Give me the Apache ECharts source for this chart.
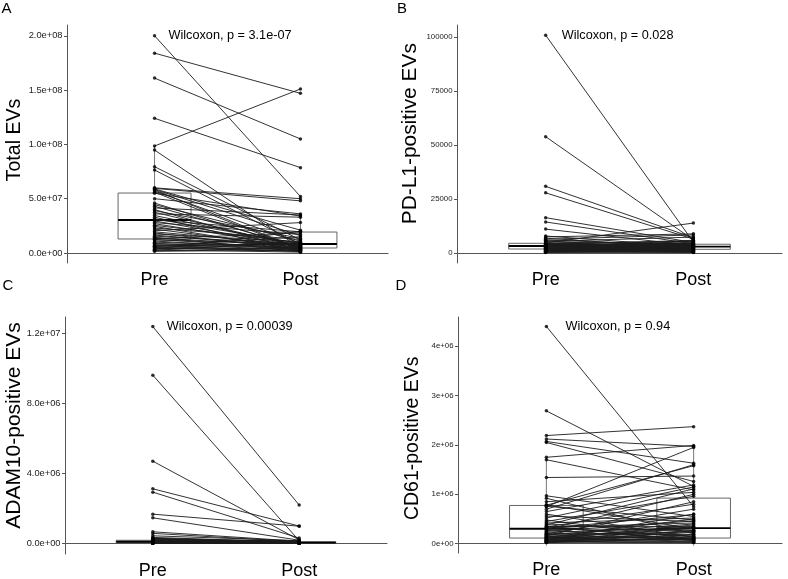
<!DOCTYPE html>
<html><head><meta charset="utf-8">
<script src="https://cdn.jsdelivr.net/npm/echarts@6/dist/echarts.min.js"></script>
<style>html,body{margin:0;padding:0;background:#fff}#c{width:788px;height:579px}</style>
</head><body><div id="c"></div>
<script>
// ---------- data ----------
const groups = ['Pre', 'Post'];
const panelLetters = ['A', 'B', 'C', 'D'];
const yTitles = ['Total EVs', 'PD-L1-positive EVs', 'ADAM10-positive EVs', 'CD61-positive EVs'];
const pLabels = ['Wilcoxon, p = 3.1e-07', 'Wilcoxon, p = 0.028', 'Wilcoxon, p = 0.00039', 'Wilcoxon, p = 0.94'];

const yTicksA = [0, 5e7, 1e8, 1.5e8, 2e8];
const yTickLabelsA = ['0.0e+00', '5.0e+07', '1.0e+08', '1.5e+08', '2.0e+08'];
const yTicksB = [0, 25000, 50000, 75000, 100000];
const yTickLabelsB = ['0', '25000', '50000', '75000', '100000'];
const yTicksC = [0, 4e6, 8e6, 1.2e7];
const yTickLabelsC = ['0.0e+00', '4.0e+06', '8.0e+06', '1.2e+07'];
const yTicksD = [0, 1e6, 2e6, 3e6, 4e6];
const yTickLabelsD = ['0e+00', '1e+06', '2e+06', '3e+06', '4e+06'];

// Panel A: Total EVs (paired Pre / Post)
const preA = [2.00e8,1.84e8,1.61e8,1.24e8,9.85e7,9.48e7,7.95e7,7.64e7,6.0e7,5.95e7,5.9e7,5.85e7,5.8e7,5.7e7,5.6e7,5.5e7,
  5.0e7,4.6e7,4.45e7,4.3e7,4.15e7,4.0e7,3.9e7,3.75e7,3.6e7,3.45e7,3.3e7,3.15e7,3.05e7,2.95e7,2.8e7,2.7e7,
  2.55e7,2.45e7,2.3e7,2.2e7,2.05e7,1.95e7,1.85e7,1.75e7,1.65e7,1.55e7,1.45e7,1.38e7,1.32e7,1.26e7,1.2e7,1.1e7,
  1.0e7,9.0e6,8.2e6,7.5e6,7.0e6,6.2e6,5.6e6,5.0e6,4.5e6,4.0e6,3.5e6,3.0e6,2.5e6,2.0e6,1.6e6,6.0e6];
const postA = [5.2e7,1.47e8,1.05e8,7.86e7,1.51e8,4.5e6,1.2e7,8.0e6,5.0e7,4.8e7,2.1e7,1.6e7,3.5e6,9.0e6,2.8e6,3.4e7,
  3.6e7,4.2e6,1.1e7,6.0e6,3.5e7,2.0e6,1.35e7,5.5e6,3.3e7,7.0e6,1.0e6,8.6e6,1.95e7,6.2e6,1.7e7,5.8e6,
  9.5e6,2.5e6,1.25e7,4.9e6,2.8e7,7.2e6,3.0e6,1.05e7,5.1e6,8.2e6,1.5e6,6.6e6,1.85e7,4.0e6,8.4e6,3.7e6,
  5.3e6,2.2e6,7.6e6,4.8e6,1.2e6,9.2e6,3.2e6,8.8e6,1.8e6,4.7e6,2.0e7,8.0e5,1.0e7,4.4e6,2.6e6,1.5e7];
// box stats: [lower whisker, Q1, median, Q3, upper whisker]
const boxPreA = [1.6e6, 1.29e7, 3.04e7, 5.52e7, 9.85e7];
const boxPostA = [8.0e5, 4.6e6, 8.3e6, 1.93e7, 3.6e7];

// Panel B: PD-L1-positive EVs
const preB = [101000,54000,31000,28000,16500,14500,11200,8000,7600,7000,6500,6100,5800,5500,5200,4800,
  4600,4500,4400,4300,4200,4100,4000,3900,3800,3700,3650,3600,3550,3500,3450,3400,
  3350,3300,3200,3100,3000,2900,2800,2700,2600,2500,2400,2300,2200,2150,2100,2000,
  1900,1800,1700,1600,1500,1400,1300,1200,1100,1000,900,800,700,600,500,400];
const postB = [5200,6200,7200,6600,5000,4400,3600,3100,9000,2400,8500,3800,1500,7500,4300,14000,
  2600,5600,1900,4100,3300,6000,2200,3900,1200,4700,2900,3500,900,5300,2000,3000,
  4200,1700,3700,2500,5800,1400,3200,4600,800,2800,3400,1100,4900,2100,600,3050,
  1800,3150,2700,1000,4000,2300,1300,500,3600,1600,2050,700,2650,1950,1250,400];
const boxPreB = [400, 1990, 3380, 4630, 8000];
const boxPostB = [400, 1850, 3100, 4200, 7500];

// Panel C: ADAM10-positive EVs
const preC = [12400000,9620000,4700000,3120000,2930000,1670000,1460000,660000,570000,430000,340000,
  300000,280000,260000,240000,220000,210000,200000,190000,180000,175000,
  170000,160000,150000,140000,135000,130000,125000,120000,115000,110000,
  105000,100000,95000,90000,85000,80000,75000,70000,65000,62000,
  60000,55000,50000,48000,45000,42000,40000,38000,35000,32000,
  30000,28000,25000,22000,20000,18000,15000,12000,10000,8000,6000,5000,4000];
const postC = [2190000,150000,200000,990000,300000,980000,180000,120000,90000,150000,60000,
  40000,120000,25000,90000,60000,15000,110000,35000,70000,20000,
  140000,50000,8000,80000,30000,100000,12000,45000,65000,18000,
  130000,55000,10000,85000,28000,75000,22000,95000,5000,38000,
  60000,16000,48000,105000,26000,70000,9000,42000,58000,14000,
  32000,80000,20000,52000,6000,36000,24000,65000,11000,44000,7000,30000,3000];
const boxPreC = [4000, 38000, 90000, 175000, 340000];
const boxPostC = [3000, 18000, 45000, 95000, 200000];

// Panel D: CD61-positive EVs
const preD = [4400000,2690000,2190000,2120000,2070000,2050000,1750000,1700000,1340000,970000,920000,850000,790000,780000,760000,750000,
  700000,650000,600000,560000,520000,480000,450000,420000,400000,380000,360000,350000,340000,330000,320000,310000,
  300000,290000,270000,250000,230000,210000,200000,190000,180000,170000,160000,150000,140000,130000,125000,120000,
  110000,100000,90000,85000,80000,70000,65000,60000,55000,50000,45000,40000,35000,30000,25000,20000];
const postD = [750000,1160000,2370000,1970000,1630000,1260000,1990000,1090000,1370000,550000,200000,1040000,300000,1580000,480000,1950000,
  1600000,1190000,130000,450000,1150000,90000,960000,520000,250000,1110000,60000,350000,800000,420000,150000,590000,
  280000,1000000,100000,460000,320000,180000,700000,70000,400000,240000,850000,110000,330000,50000,500000,160000,
  310000,140000,380000,80000,270000,40000,600000,120000,230000,30000,340000,90000,190000,20000,260000,115000];
const boxPreD = [20000, 115000, 303000, 774000, 1750000];
const boxPostD = [20000, 115000, 317000, 923000, 1990000];

// ---------- layout ----------
const panels = [
  {pre: preA, post: postA, boxPre: boxPreA, boxPost: boxPostA, ticks: yTicksA, tickLabels: yTickLabelsA},
  {pre: preB, post: postB, boxPre: boxPreB, boxPost: boxPostB, ticks: yTicksB, tickLabels: yTickLabelsB},
  {pre: preC, post: postC, boxPre: boxPreC, boxPost: boxPostC, ticks: yTicksC, tickLabels: yTickLabelsC},
  {pre: preD, post: postD, boxPre: boxPreD, boxPost: boxPostD, ticks: yTicksD, tickLabels: yTickLabelsD}
];
const layout = [
  {grid: {left: 67, top: 25, width: 321, height: 238}, ymin: -9.2e6, ymax: 2.099e8, tickFont: 9.3, xTick: false,
   titleX: 14.5, titleY: 140, titleSize: 19.6, letterX: 1.5, letterY: 9, pX: 168.5, pY: 35},
  {grid: {left: 457, top: 25, width: 325, height: 238}, ymin: -4490, ymax: 105700, tickFont: 7.8, xTick: false,
   titleX: 409.8, titleY: 133.7, titleSize: 20.9, letterX: 397, letterY: 9, pX: 561.7, pY: 35},
  {grid: {left: 65, top: 317, width: 322, height: 237}, ymin: -6.1e5, ymax: 1.295e7, tickFont: 9.3, xTick: false,
   titleX: 14.2, titleY: 425.5, titleSize: 21, letterX: 2.5, letterY: 286, pX: 166.7, pY: 326.7},
  {grid: {left: 458, top: 317, width: 324, height: 236}, ymin: -1.88e5, ymax: 4.59e6, tickFont: 7.8, xTick: true,
   titleX: 413, titleY: 438.3, titleSize: 19.5, letterX: 395.5, letterY: 286, pX: 565.5, pY: 326.7}
];

const FONT = '"Liberation Sans", Arial, sans-serif';

function renderBox(params, api) {
  const x = api.value(0);
  const lo = api.coord([x, api.value(1)]);
  const q1 = api.coord([x, api.value(2)]);
  const md = api.coord([x, api.value(3)]);
  const q3 = api.coord([x, api.value(4)]);
  const hi = api.coord([x, api.value(5)]);
  const half = api.size([0.5, 0])[0] / 2;
  const cx = q1[0];
  const stroke = '#555';
  return {
    type: 'group',
    children: [
      {type: 'line', shape: {x1: cx, y1: hi[1], x2: cx, y2: q3[1]}, style: {stroke: stroke, lineWidth: 0.8}},
      {type: 'line', shape: {x1: cx, y1: q1[1], x2: cx, y2: lo[1]}, style: {stroke: stroke, lineWidth: 0.8}},
      {type: 'rect', shape: {x: cx - half, y: q3[1], width: 2 * half, height: q1[1] - q3[1]},
       style: {fill: '#fff', stroke: stroke, lineWidth: 0.9}},
      {type: 'line', shape: {x1: cx - half, y1: md[1], x2: cx + half, y2: md[1]}, style: {stroke: '#000', lineWidth: 1.8}}
    ]
  };
}

const grid = [], xAxis = [], yAxis = [], series = [], graphic = [];
panels.forEach((p, i) => {
  const L = layout[i];
  grid.push(Object.assign({outerBoundsMode: 'none', containLabel: false}, L.grid));
  xAxis.push({
    type: 'value', gridIndex: i, min: 0.4, max: 2.6,
    splitLine: {show: false},
    axisLine: {show: true, lineStyle: {color: '#555', width: 1}},
    axisTick: {show: L.xTick, customValues: [1, 2], length: 3, lineStyle: {color: '#c8c8c8'}},
    axisLabel: {customValues: [1, 2], formatter: v => groups[Math.round(v) - 1] || '',
      fontSize: 18, fontFamily: FONT, color: '#000', margin: 8}
  });
  yAxis.push({
    type: 'value', gridIndex: i, min: L.ymin, max: L.ymax,
    splitLine: {show: false},
    axisLine: {show: true, lineStyle: {color: '#555', width: 1}},
    axisTick: {show: true, customValues: p.ticks, length: 3, lineStyle: {color: '#555'}},
    axisLabel: {customValues: p.ticks,
      formatter: v => { const k = p.ticks.indexOf(v); return k >= 0 ? p.tickLabels[k] : ''; },
      fontSize: L.tickFont, fontFamily: FONT, color: '#222', margin: 4.5}
  });
  series.push({
    type: 'custom', xAxisIndex: i, yAxisIndex: i, z: 1, silent: true,
    renderItem: renderBox,
    encode: {x: 0, y: [1, 2, 3, 4, 5]},
    data: [[1].concat(p.boxPre), [2].concat(p.boxPost)]
  });
  const seg = [];
  p.pre.forEach((v, k) => { seg.push([1, v], [2, p.post[k]], ['-', '-']); });
  series.push({
    type: 'line', xAxisIndex: i, yAxisIndex: i, z: 2, silent: true,
    showSymbol: false, connectNulls: false,
    lineStyle: {color: '#1c1c1c', width: 0.9},
    data: seg
  });
  const pts = p.pre.map(v => [1, v]).concat(p.post.map(v => [2, v]));
  series.push({
    type: 'scatter', xAxisIndex: i, yAxisIndex: i, z: 3, silent: true,
    symbolSize: 3.5, itemStyle: {color: '#000'},
    data: pts
  });
  graphic.push({
    type: 'text', x: L.letterX, y: L.letterY,
    style: {text: panelLetters[i], font: '15px ' + FONT, fill: '#000', align: 'left', verticalAlign: 'middle'}
  });
  graphic.push({
    type: 'text', x: L.titleX, y: L.titleY, rotation: Math.PI / 2,
    style: {text: yTitles[i], font: L.titleSize + 'px ' + FONT, fill: '#000', align: 'center', verticalAlign: 'middle'}
  });
  graphic.push({
    type: 'text', x: L.pX, y: L.pY,
    style: {text: pLabels[i], font: '12.7px ' + FONT, fill: '#000', align: 'left', verticalAlign: 'middle'}
  });
});

const chart = echarts.init(document.getElementById('c'), null, {renderer: 'canvas'});
chart.setOption({
  animation: false,
  backgroundColor: '#fff',
  grid: grid, xAxis: xAxis, yAxis: yAxis, series: series, graphic: graphic
});
</script>
</body></html>
